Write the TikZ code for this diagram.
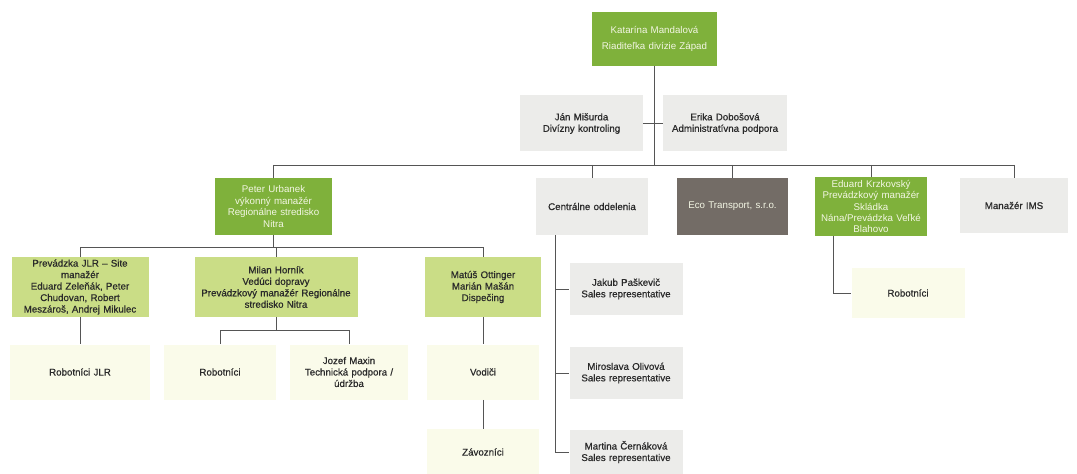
\documentclass[tikz,border=0pt]{standalone}
\usepackage{fontspec}
\setmainfont{Liberation Sans}
\newfontfamily\semib[FakeBold=0.6]{Liberation Sans}
\definecolor{dgreen}{HTML}{7FB13B}
\definecolor{lgreen}{HTML}{CADD86}
\definecolor{lgray}{HTML}{ECECEA}
\definecolor{lyel}{HTML}{FAFBEA}
\definecolor{brownbox}{HTML}{736C66}
\definecolor{txt}{HTML}{2A2A2A}
\definecolor{wtxt}{HTML}{F3F6E4}
\definecolor{ln}{HTML}{555555}
\tikzset{
  base/.style={align=center, inner sep=2pt, font=\fontsize{7.3}{8.6}\selectfont},
  dk/.style={base, font=\fontsize{7.3}{8.6}\selectfont\semib},
  dg/.style={base, fill=dgreen, text=wtxt},
  lg/.style={dk, fill=lgreen, text=txt},
  gr/.style={dk, fill=lgray, text=txt},
  ye/.style={dk, fill=lyel, text=txt},
  br/.style={base, fill=brownbox, text=wtxt},
  sz/.style n args={2}{minimum width=#1*0.75pt, minimum height=#2*0.75pt, text width=#1*0.75pt-6pt},
  conn/.style={draw=ln, line width=0.5pt}
}
\begin{document}
\begin{tikzpicture}[x=0.75pt,y=-0.75pt]
\useasboundingbox (0,0) rectangle (1077,474);
% level 0
\node[dg, sz={125}{54}] (kat) at (654.5,39) {Katarína Mandalová\\[3pt]Riaditeľka divízie Západ};
% staff
\node[gr, sz={123}{56}] (jan) at (581.5,123.5) {Ján Mišurda\\Divízny kontroling};
\node[gr, sz={124}{56}] (erika) at (725,123.5) {Erika Dobošová\\Administratívna podpora};
% level 1
\node[dg, sz={117}{57}] (peter) at (273.5,206.5) {Peter Urbanek\\výkonný manažér\\Regionálne stredisko\\Nitra};
\node[gr, sz={112}{57}] (cent) at (592,206.5) {Centrálne oddelenia};
\node[br, sz={111}{57}] (eco) at (732.5,206.5) {Eco Transport, s.r.o.};
\node[dg, sz={112}{57}] (edu) at (871,206.5) {Eduard Krzkovský\\Prevádzkový manažér\\Skládka\\Nána/Prevádzka Veľké\\Blahovo};
\node[gr, sz={108}{55}] (ims) at (1014,205.5) {Manažér IMS};
% level 2
\node[lg, sz={137}{60}] (jlr) at (80,287) {Prevádzka JLR – Site\\manažér\\Eduard Zeleňák, Peter\\Chudovan,  Robert\\Meszároš, Andrej Mikulec};
\node[lg, sz={163}{60}] (milan) at (276,287) {Milan Horník\\Vedúci dopravy\\Prevádzkový manažér Regionálne\\stredisko Nitra};
\node[lg, sz={116}{60}] (matus) at (483,287) {Matúš Ottinger\\Marián Mašán\\Dispečing};
% level 3
\node[ye, sz={140}{55}] (robjlr) at (80,372) {Robotníci JLR};
\node[ye, sz={112}{55}] (rob1) at (220,372) {Robotníci};
\node[ye, sz={118}{55}] (jozef) at (349,372) {Jozef Maxin\\Technická podpora /\\údržba};
\node[ye, sz={112}{55}] (vodici) at (483,372) {Vodiči};
\node[ye, sz={112}{46}] (zav) at (483,452) {Závozníci};
% central
\node[gr, sz={113}{52}] (jakub) at (626,289) {Jakub Paškevič\\Sales representative};
\node[gr, sz={113}{52}] (mirka) at (626,373) {Miroslava Olivová\\Sales representative};
\node[gr, sz={113}{44}] (martina) at (626,452) {Martina Černáková\\Sales representative};
% eduard child
\node[ye, sz={113}{50}] (rob2) at (908,293) {Robotníci};
% connectors
\coordinate (busL) at (273,165);
\coordinate (pbus) at (0,247);
\coordinate (mbus) at (0,330);
\coordinate (cx) at (555,0);
\coordinate (ex) at (833,0);
\draw[conn] (kat.south) -- (kat.south |- busL);
\draw[conn] (jan.east) -- (erika.west);
\draw[conn] (peter.north |- busL) -- (ims.north |- busL);
\foreach \n in {peter,cent,eco,edu,ims} \draw[conn] (\n.north |- busL) -- (\n.north);
\draw[conn] (peter.south) -- (peter.south |- pbus);
\draw[conn] (jlr.north) -- (jlr.north |- pbus) -- (matus.north |- pbus) -- (matus.north);
\draw[conn] (milan.north |- pbus) -- (milan.north);
\draw[conn] (jlr.south) -- (robjlr.north);
\draw[conn] (milan.south) -- (milan.south |- mbus);
\draw[conn] (rob1.north) -- (rob1.north |- mbus) -- (jozef.north |- mbus) -- (jozef.north);
\draw[conn] (matus.south) -- (vodici.north);
\draw[conn] (vodici.south) -- (zav.north);
\draw[conn] (cx |- cent.south) -- (cx |- martina.west) -- (martina.west);
\draw[conn] (cx |- jakub.west) -- (jakub.west);
\draw[conn] (cx |- mirka.west) -- (mirka.west);
\draw[conn] (ex |- edu.south) -- (ex |- rob2.west) -- (rob2.west);
\end{tikzpicture}
\end{document}
